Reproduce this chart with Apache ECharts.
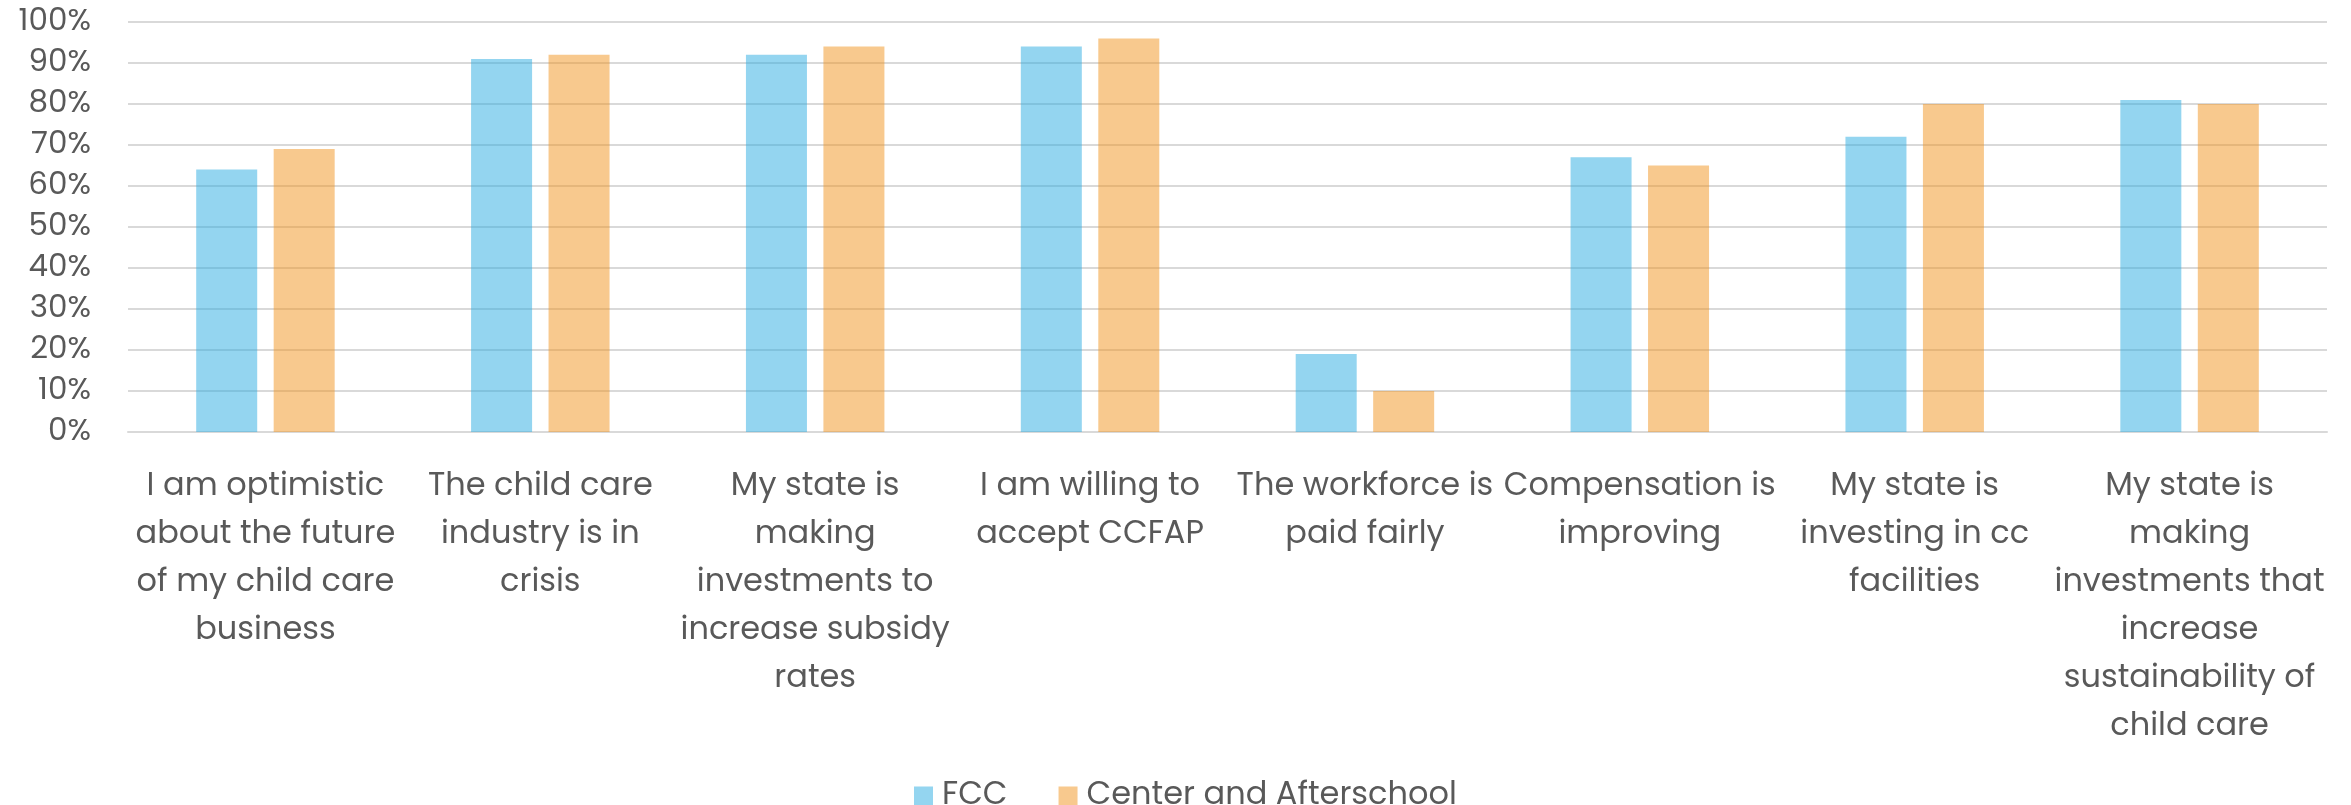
<!DOCTYPE html>
<html>
<head>
<meta charset="utf-8">
<script src="https://cdn.jsdelivr.net/npm/echarts@6/dist/echarts.min.js"></script>
<style>
  html, body { margin: 0; padding: 0; background: #ffffff; }
  #chart { width: 2351px; height: 805px; }
</style>
</head>
<body>
<div id="chart"></div>
<script>
// Survey statements shown along the horizontal axis (line breaks as printed)
const categories = [
  'I am optimistic\nabout the future\nof my child care\nbusiness',
  'The child care\nindustry is in\ncrisis',
  'My state is\nmaking\ninvestments to\nincrease subsidy\nrates',
  'I am willing to\naccept CCFAP',
  'The workforce is\npaid fairly',
  'Compensation is\nimproving',
  'My state is\ninvesting in cc\nfacilities',
  'My state is\nmaking\ninvestments that\nincrease\nsustainability of\nchild care'
];

// Share of respondents agreeing (%)
const fccValues = [64, 91, 92, 94, 19, 67, 72, 81];
const centerValues = [69, 92, 94, 96, 10, 65, 80, 80];

const seriesNames = ['FCC', 'Center and Afterschool'];

const textColor = '#595959';
const fontFamily = 'Poppins, "Open Sans", sans-serif';

const chart = echarts.init(document.getElementById('chart'), null, { renderer: 'canvas' });

chart.setOption({
  animation: false,
  backgroundColor: '#ffffff',
  grid: { left: 128, right: 24, top: 22, bottom: 373, containLabel: false },
  legend: {
    left: 909,
    top: 775,
    itemWidth: 19,
    itemHeight: 19,
    itemGap: 51,
    icon: 'rect',
    textStyle: { color: textColor, fontSize: 32, fontFamily: fontFamily, padding: [0, 0, 0, 4] },
    data: seriesNames
  },
  xAxis: {
    type: 'category',
    data: categories,
    axisTick: { show: false },
    axisLine: { show: true, lineStyle: { color: '#d9d9d9', width: 2 } },
    axisLabel: {
      interval: 0,
      color: textColor,
      fontSize: 32,
      fontFamily: fontFamily,
      lineHeight: 48,
      margin: 31,
      align: 'center'
    }
  },
  yAxis: {
    type: 'value',
    min: 0,
    max: 100,
    interval: 10,
    axisLine: { show: false },
    axisTick: { show: false },
    splitLine: { lineStyle: { color: '#d9d9d9', width: 2 } },
    axisLabel: {
      color: textColor,
      fontSize: 31,
      fontFamily: fontFamily,
      margin: 37,
      formatter: '{value}%'
    }
  },
  series: [
    {
      name: seriesNames[0],
      type: 'bar',
      data: fccValues,
      barWidth: 61,
      barGap: '27%',
      z: 3,
      itemStyle: { color: 'rgba(42,171,226,0.5)' }
    },
    {
      name: seriesNames[1],
      type: 'bar',
      data: centerValues,
      barWidth: 61,
      barGap: '27%',
      z: 3,
      itemStyle: { color: 'rgba(242,147,29,0.5)' }
    }
  ]
});
</script>
</body>
</html>
